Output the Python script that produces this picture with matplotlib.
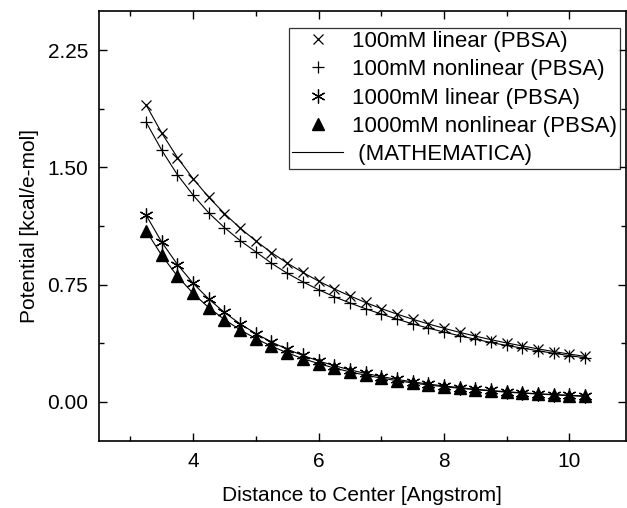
import matplotlib
matplotlib.use("Agg")
import matplotlib.pyplot as plt
from matplotlib.ticker import MultipleLocator

plt.rcParams['font.family'] = ['Liberation Sans', 'DejaVu Sans']

# distance to center, 3.25 .. 10.25 A
dist = [3.25, 3.5, 3.75, 4.0, 4.25, 4.5, 4.75, 5.0, 5.25, 5.5, 5.75, 6.0,
        6.25, 6.5, 6.75, 7.0, 7.25, 7.5, 7.75, 8.0, 8.25, 8.5, 8.75, 9.0,
        9.25, 9.5, 9.75, 10.0, 10.25]

lin100 = [1.90, 1.72, 1.563, 1.428, 1.309, 1.205, 1.112, 1.030, 0.955, 0.888,
          0.828, 0.773, 0.723, 0.678, 0.636, 0.597, 0.562, 0.529, 0.499, 0.471,
          0.445, 0.421, 0.398, 0.377, 0.358, 0.339, 0.322, 0.306, 0.291]
nonlin100 = [1.79, 1.61, 1.453, 1.323, 1.209, 1.115, 1.032, 0.960, 0.887, 0.823,
             0.768, 0.718, 0.673, 0.633, 0.596, 0.562, 0.530, 0.499, 0.472, 0.447,
             0.423, 0.401, 0.380, 0.361, 0.344, 0.327, 0.311, 0.296, 0.282]
lin1000 = [1.195, 1.022, 0.879, 0.759, 0.658, 0.572, 0.499, 0.437, 0.383, 0.337,
           0.297, 0.262, 0.232, 0.205, 0.182, 0.162, 0.144, 0.128, 0.114, 0.102,
           0.091, 0.081, 0.073, 0.065, 0.058, 0.052, 0.047, 0.042, 0.038]
nonlin1000 = [1.095, 0.937, 0.804, 0.694, 0.603, 0.527, 0.461, 0.405, 0.356, 0.314,
              0.277, 0.245, 0.217, 0.192, 0.171, 0.152, 0.136, 0.121, 0.108, 0.097,
              0.087, 0.078, 0.070, 0.062, 0.056, 0.050, 0.045, 0.040, 0.035]

labels = ['100mM linear (PBSA)', '100mM nonlinear (PBSA)',
          '1000mM linear (PBSA)', '1000mM nonlinear (PBSA)', ' (MATHEMATICA)']

fig = plt.figure(figsize=(6.27, 5.08), dpi=100)
ax = fig.add_axes([0.158, 0.132, 0.840, 0.846])

# mathematica curves
for s in (lin100, nonlin100, lin1000, nonlin1000):
    ax.plot(dist, s, color='black', lw=0.8)

h1, = ax.plot(dist, lin100, ls='none', marker='x', ms=7.5, mew=0.9, color='black')
h2, = ax.plot(dist, nonlin100, ls='none', marker='+', ms=8, mew=0.9, color='black')
h3, = ax.plot(dist, lin1000, ls='none', marker=(6, 2, 0), ms=10, mew=0.9, color='black')
h4, = ax.plot(dist, nonlin1000, ls='none', marker='^', ms=8.5, color='black')
h5, = ax.plot([], [], color='black', lw=0.8)

ax.set_xlim(2.5, 10.9)
ax.set_ylim(-0.25, 2.5)
ax.xaxis.set_major_locator(MultipleLocator(2))
ax.xaxis.set_minor_locator(MultipleLocator(1))
ax.yaxis.set_minor_locator(MultipleLocator(0.375))
ax.set_yticks([0.0, 0.75, 1.5, 2.25])
ax.set_yticklabels(['0.00', '0.75', '1.50', '2.25'])

ax.tick_params(which='both', direction='in', top=True, right=True,
               labelsize=15, width=1, pad=8)
ax.tick_params(which='major', length=6)
ax.tick_params(which='minor', length=3.5)
for sp in ax.spines.values():
    sp.set_linewidth(1.2)

ax.set_xlabel('Distance to Center [Angstrom]', fontsize=15, labelpad=11)
ax.set_ylabel('Potential [kcal/e-mol]', fontsize=15, labelpad=6)

leg = ax.legend([h1, h2, h3, h4, h5], labels, loc='upper right',
                bbox_to_anchor=(0.990, 0.962), borderaxespad=0, fontsize=16,
                frameon=True, fancybox=False, edgecolor='black',
                handlelength=2.3, handletextpad=0.4, labelspacing=0.33,
                borderpad=0.15)
leg.get_frame().set_linewidth(0.9)

fig.savefig('out.png', dpi=100)
